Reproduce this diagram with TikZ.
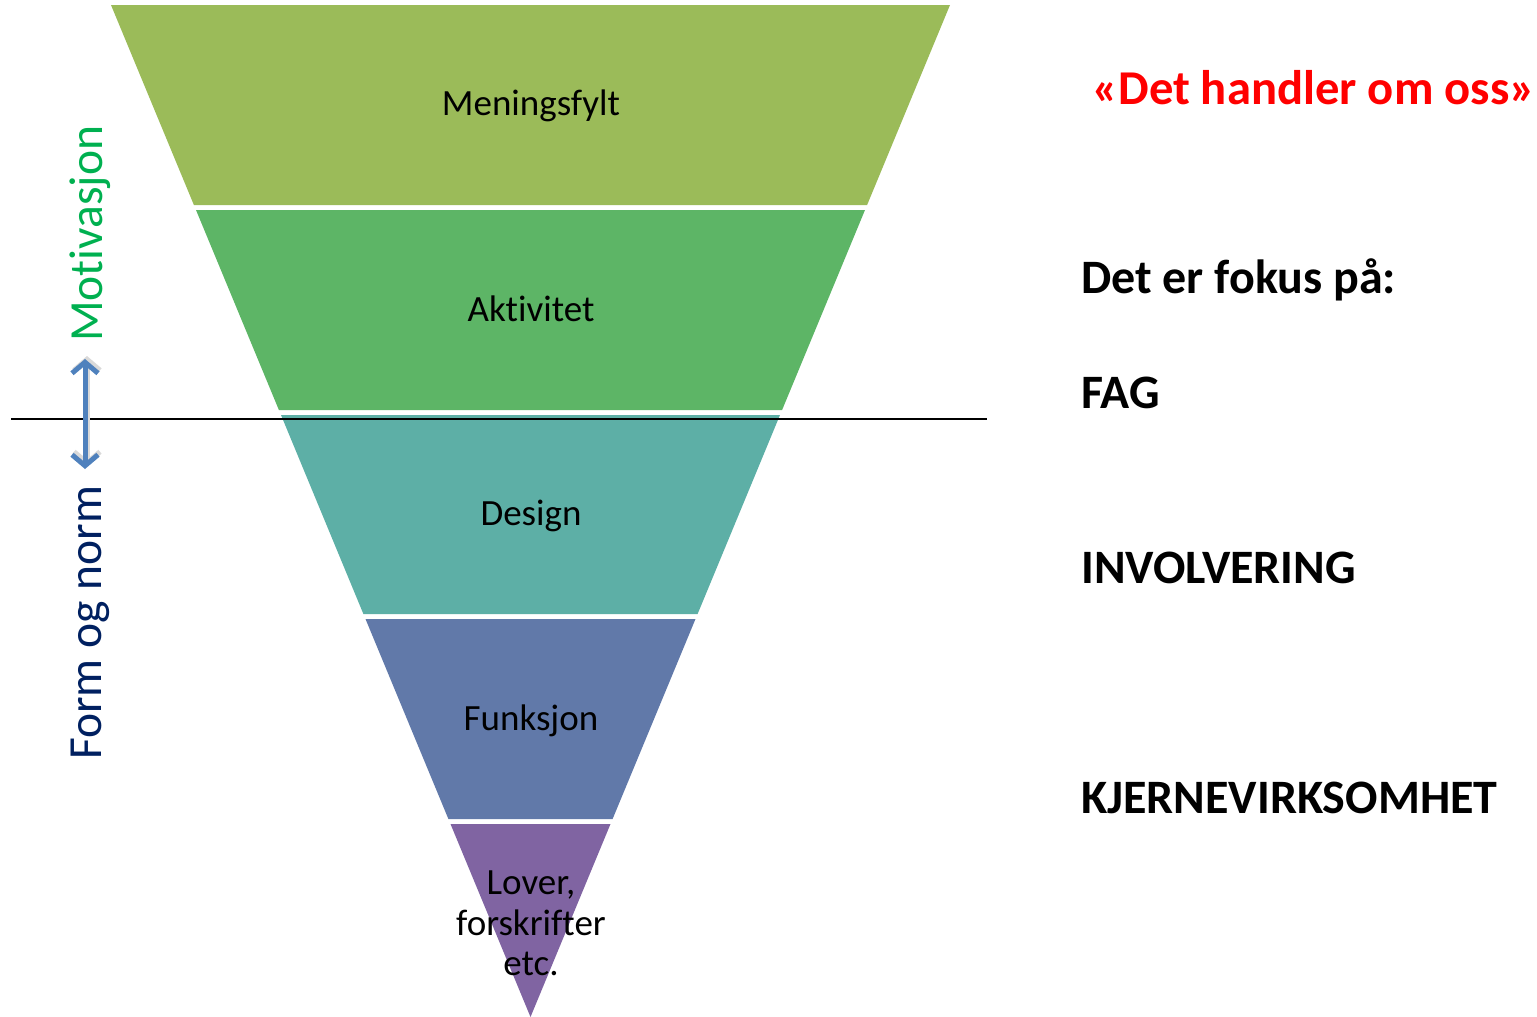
\documentclass[tikz,border=0pt]{standalone}
\usepackage{fontspec}
\setmainfont{Carlito}[Ligatures={NoCommon}]
\usetikzlibrary{arrows.meta}
\definecolor{cband1}{HTML}{9BBB59}
\definecolor{cband2}{HTML}{5DB566}
\definecolor{cband3}{HTML}{5DAFA6}
\definecolor{cband4}{HTML}{6179A9}
\definecolor{cband5}{HTML}{8064A2}
\definecolor{cred}{HTML}{FF0000}
\definecolor{cmot}{HTML}{00B050}
\definecolor{cform}{HTML}{002060}
\definecolor{carrow}{HTML}{4F81BD}
\tikzset{
  band/.style={draw=none},
  bandlabel/.style={inner sep=0pt, anchor=base, font=\fontsize{37}{41}\selectfont, text=black, align=center},
  sidelabel/.style={inner sep=0pt, anchor=base west, rotate=90, font=\fontsize{47.5}{52}\selectfont},
  rightlabel/.style={inner sep=0pt, anchor=base west, font=\fontsize{48}{52}\selectfont\bfseries, text=black},
  dblarrow/.style={line width=5pt, {Straight Barb[length=11pt,width=26pt]}-{Straight Barb[length=11pt,width=26pt]}},
}
\begin{document}
\begin{tikzpicture}[x=1pt,y=-1pt]
\useasboundingbox (0,0) rectangle (1537,1017);
% funnel bands
\fill[band,cband1] (111,5) -- (950,5) -- (867.1,205) -- (193.9,205) -- cycle;
\fill[band,cband2] (196.0,210) -- (865.0,210) -- (782.1,410) -- (278.9,410) -- cycle;
\fill[band,cband3] (281.0,415) -- (780.0,415) -- (697.6,614) -- (363.4,614) -- cycle;
\fill[band,cband4] (365.5,619) -- (695.5,619) -- (612.6,819) -- (448.4,819) -- cycle;
\fill[band,cband5] (450.5,824) -- (610.5,824) -- (530.5,1017) -- cycle;
% band labels
\node[bandlabel] (b1) at (531,115) {Meningsfylt};
\node[bandlabel] (b2) at (531,321) {Aktivitet};
\node[bandlabel] (b3) at (531,525) {Design};
\node[bandlabel] (b4) at (531,730) {Funksjon};
\node[bandlabel] (b5l1) at (531,894) {Lover,};
\node[bandlabel] (b5l2) at (531,935) {forskrifter};
\node[bandlabel] (b5l3) at (531,975) {etc.};
% horizontal divider
\coordinate (hl) at (11,418.5);
\coordinate (hr) at (987,418.5);
\draw[line width=2pt, black] (hl) -- (hr);
% side labels
\node[sidelabel, text=cmot] (mot) at (102,342) {Motivasjon};
\node[sidelabel, text=cform] (form) at (101,760) {Form og norm};
% double arrow
\coordinate (at) at (85,359);
\coordinate (ab) at (85,469);
\draw[dblarrow, black!15] ([xshift=2pt,yshift=3pt]at) -- ([xshift=2pt,yshift=3pt]ab);
\draw[dblarrow, carrow] (at) -- (ab);
% right texts
\node[rightlabel, text=cred, font=\fontsize{48.6}{52}\selectfont\bfseries] (title) at (1092,104) {«Det handler om oss»};
\node[rightlabel] (fokus) at (1081,293) {Det er fokus på:};
\node[rightlabel] (fag) at (1081,408) {FAG};
\node[rightlabel] (inv) at (1081,583) {INVOLVERING};
\node[rightlabel] (kj) at (1081,813) {KJERNEVIRKSOMHET};
\end{tikzpicture}
\end{document}
